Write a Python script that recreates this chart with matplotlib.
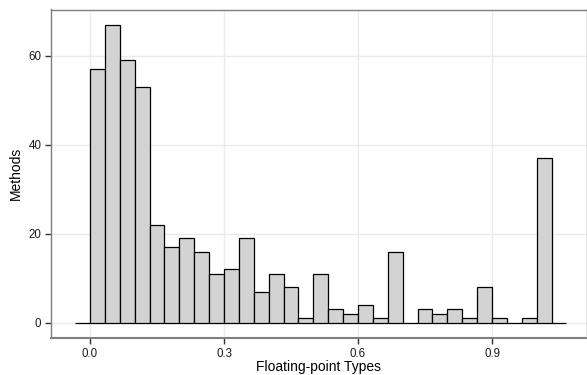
import numpy as np
import matplotlib
matplotlib.use("Agg")
from matplotlib import pyplot as plt

plt.rcParams['font.family'] = ['Liberation Sans', 'DejaVu Sans']

# histogram counts, bins of width 1/30 starting at -1/30
binwidth = 1 / 30
bin_start = -1 / 30
counts = [0, 57, 67, 59, 53, 22, 17, 19, 16, 11, 12, 19, 7, 11, 8, 1,
          11, 3, 2, 4, 1, 16, 0, 3, 2, 3, 1, 8, 1, 0, 1, 37, 0]
xticks = [0.0, 0.3, 0.6, 0.9]
xtick_labels = ["0.0", "0.3", "0.6", "0.9"]
yticks = [0, 20, 40, 60]

edges = bin_start + binwidth * np.arange(len(counts))

fig = plt.figure(figsize=(5.87, 3.75), dpi=100)
ax = fig.add_axes([51 / 587, 1 - 338 / 375, 536 / 587, 328.5 / 375])

ax.bar(edges, counts, width=binwidth, align='edge', color='#d3d3d3',
       edgecolor='black', linewidth=0.9, zorder=3)

ax.set_xlim(-0.0873, 1.1126)
ax.set_ylim(-3.44, 70.4)
ax.set_xticks(xticks)
ax.set_xticklabels(xtick_labels)
ax.set_yticks(yticks)

ax.grid(True, color='#ebebeb', linewidth=1.0, zorder=0)
ax.set_axisbelow(True)
for side in ax.spines.values():
    side.set_color('#7f7f7f')
    side.set_linewidth(1.0)
ax.spines['bottom'].set_linewidth(1.5)
ax.tick_params(length=4, width=1.0, color='#333333', labelsize=8.3,
               labelcolor='#1a1a1a', pad=3)

ax.set_xlabel("Floating-point Types", fontsize=10, labelpad=0)
ax.set_ylabel("Methods", fontsize=10, labelpad=4)

fig.savefig("out.png", dpi=100)
